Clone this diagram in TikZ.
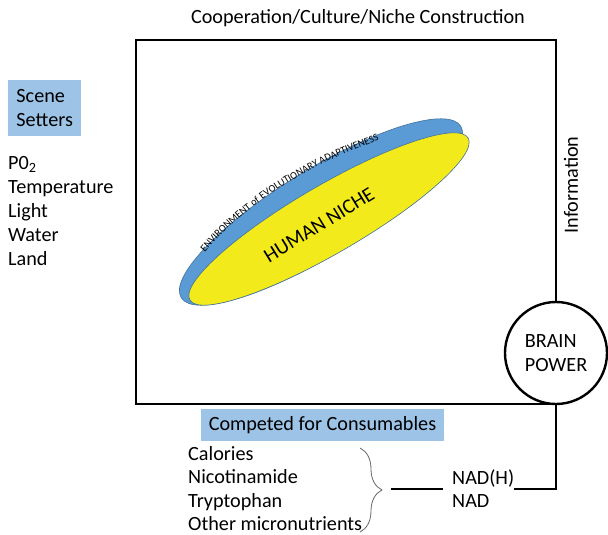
\documentclass[tikz,border=0pt]{standalone}
\usepackage{fontspec}
\setmainfont{Carlito}
\usetikzlibrary{decorations.pathreplacing,decorations.text}
\definecolor{tagblue}{HTML}{9DC3E6}
\definecolor{eeablue}{HTML}{5B9BD5}
\definecolor{nicheyellow}{HTML}{F2EA1B}
\definecolor{rimblue}{HTML}{41719C}
\begin{document}
\begin{tikzpicture}[x=1pt,y=-1pt,
  lbl/.style={font=\fontsize{20.2}{24}\selectfont, inner sep=0pt},
  tagbox/.style={lbl, fill=tagblue},
  frame/.style={line width=2.6pt, line join=miter},
  bracestyle/.style={draw=gray!80!black, line width=0.8pt, decorate, decoration={brace, amplitude=22pt}},
  rim/.style={draw=rimblue, line width=0.6pt}]
\useasboundingbox (0,0) rectangle (608,535);

% title
\node[lbl, anchor=base] (title) at (358,24) {Cooperation/Culture/Niche Construction};

% ellipses
\begin{scope}[shift={(321,212)}, rotate=31.5]
  \filldraw[rim, fill=eeablue] (0,0) ellipse [x radius=164pt, y radius=43pt];
\end{scope}
\begin{scope}[shift={(329,219)}, rotate=30.2]
  \filldraw[rim, fill=nicheyellow] (0,0) ellipse [x radius=161pt, y radius=34pt];
\end{scope}
\path[decorate, decoration={text along path, text align=center,
  text={|\fontsize{10.3}{11}\selectfont|ENVIRONMENT of EVOLUTIONARY ADAPTIVENESS}}]
  (199,260) .. controls (247,199) and (317,161) .. (388,137);
\node[lbl, rotate=31.6, font=\fontsize{20.5}{22}\selectfont] (niche) at (319,225) {HUMAN NICHE};

% scene setters
\node[tagbox, minimum width=73pt, minimum height=56pt, align=left, anchor=north west] (scene) at (8,80) {Scene\\Setters};
\node[lbl, anchor=base west] (s1) at (8,169) {P0\textsubscript{2}};
\node[lbl, anchor=base west] (s2) at (8,193) {Temperature};
\node[lbl, anchor=base west] (s3) at (8,217) {Light};
\node[lbl, anchor=base west] (s4) at (8,241) {Water};
\node[lbl, anchor=base west] (s5) at (8,265) {Land};

% information
\node[lbl, rotate=90] (info) at (571,185) {Information};

% brain power
\node[lbl, draw, circle, line width=2.4pt, minimum size=102pt, align=left] (brain) at (556,353) {BRAIN\\POWER};

% frame
\draw[frame] (brain.north) -- (brain.north |- 0,40) -- (136,40) -- (136,404) -- (brain.south |- 0,404);

% consumables
\node[tagbox, minimum width=243pt, minimum height=32pt] (comp) at (322.5,425) {Competed for Consumables};
\node[lbl, anchor=base west] (c1) at (188,460) {Calories};
\node[lbl, anchor=base west] (c2) at (188,483.5) {Nicotinamide};
\node[lbl, anchor=base west] (c3) at (188,507) {Tryptophan};
\node[lbl, anchor=base west] (c4) at (188,530.5) {Other micronutrients};
\draw[bracestyle] (360,448) -- (360,532);

% NAD
\node[lbl, anchor=base west] (nadh) at (452,484) {NAD(H)};
\node[lbl, anchor=base west] (nad) at (452,507) {NAD};
\coordinate (bt) at (391,489);
\coordinate (nl) at (443,489);
\coordinate (nr) at (514,489);
\draw[frame] (bt) -- (nl);
\draw[frame] (brain.south) -- (brain.south |- nr) -- (nr);
\end{tikzpicture}
\end{document}
